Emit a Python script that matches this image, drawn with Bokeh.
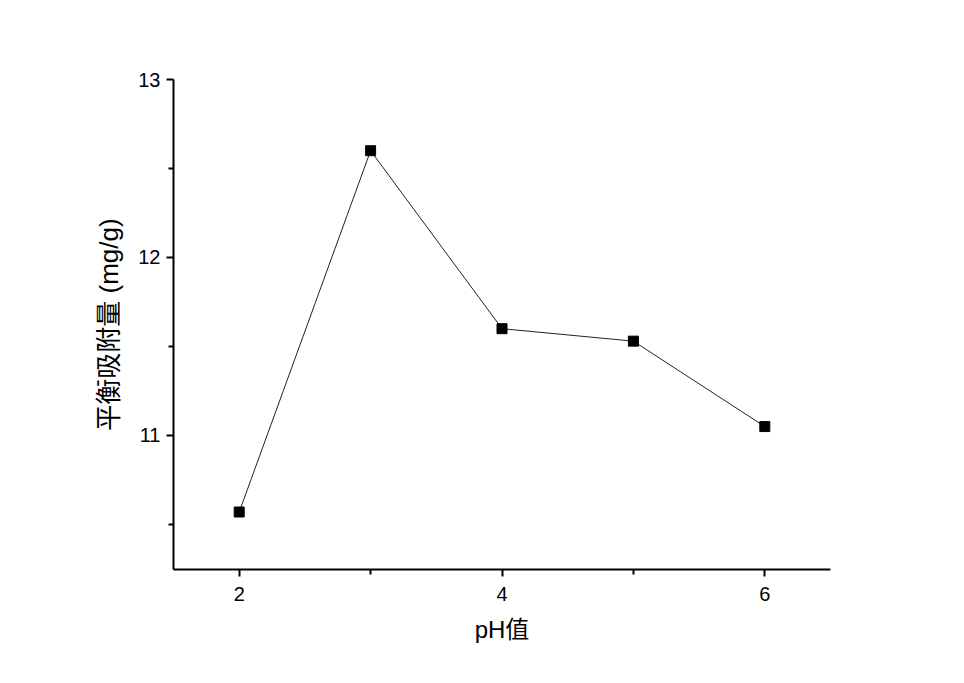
from bokeh.plotting import figure
from bokeh.models import FixedTicker, Range1d
from bokeh.embed import file_html
from bokeh.resources import INLINE

ph = [2, 3, 4, 5, 6]
adsorption = [10.57, 12.60, 11.60, 11.53, 11.05]
x_major = [2, 4, 6]
x_minor = [3, 5]
y_major = [11, 12, 13]
y_minor = [10.5, 11.5, 12.5]

p = figure(width=948, height=668, output_backend="svg", toolbar_location=None,
           x_range=Range1d(1.5, 6.5), y_range=Range1d(10.247, 13.0),
           min_border_left=173, min_border_right=118, min_border_top=79, min_border_bottom=99)
p.outline_line_color = None
p.xgrid.visible = False
p.ygrid.visible = False
p.background_fill_color = "white"
p.border_fill_color = "white"

p.line(ph, adsorption, line_color="#222222", line_width=1)
p.scatter(ph, adsorption, marker="square", size=10, fill_color="black", line_color="black")

font = "Liberation Sans, Arial, Noto Sans CJK SC"
for ax in (p.xaxis[0], p.yaxis[0]):
    ax.axis_line_width = 2
    ax.axis_line_color = "black"
    ax.major_tick_in = 0
    ax.major_tick_out = 7
    ax.minor_tick_in = 0
    ax.minor_tick_out = 5
    ax.major_tick_line_width = 2
    ax.minor_tick_line_width = 2
    ax.major_label_text_font = font
    ax.major_label_text_font_size = "20px"
    ax.major_label_text_color = "black"
    ax.axis_label_text_font = font
    ax.axis_label_text_font_style = "normal"
    ax.axis_label_text_color = "black"

p.xaxis.axis_label_text_font_size = "24px"
p.yaxis.axis_label_text_font_size = "26px"
p.xaxis.ticker = FixedTicker(ticks=x_major, minor_ticks=x_minor)
p.yaxis.ticker = FixedTicker(ticks=y_major, minor_ticks=y_minor)
p.xaxis.axis_label = "pH值"
p.yaxis.axis_label = "平衡吸附量 (mg/g)"
p.xaxis.major_label_standoff = 10
p.yaxis.major_label_standoff = 6
p.xaxis.axis_label_standoff = 12
p.yaxis.axis_label_standoff = 11

open("out.html", "w").write(file_html(p, INLINE))
